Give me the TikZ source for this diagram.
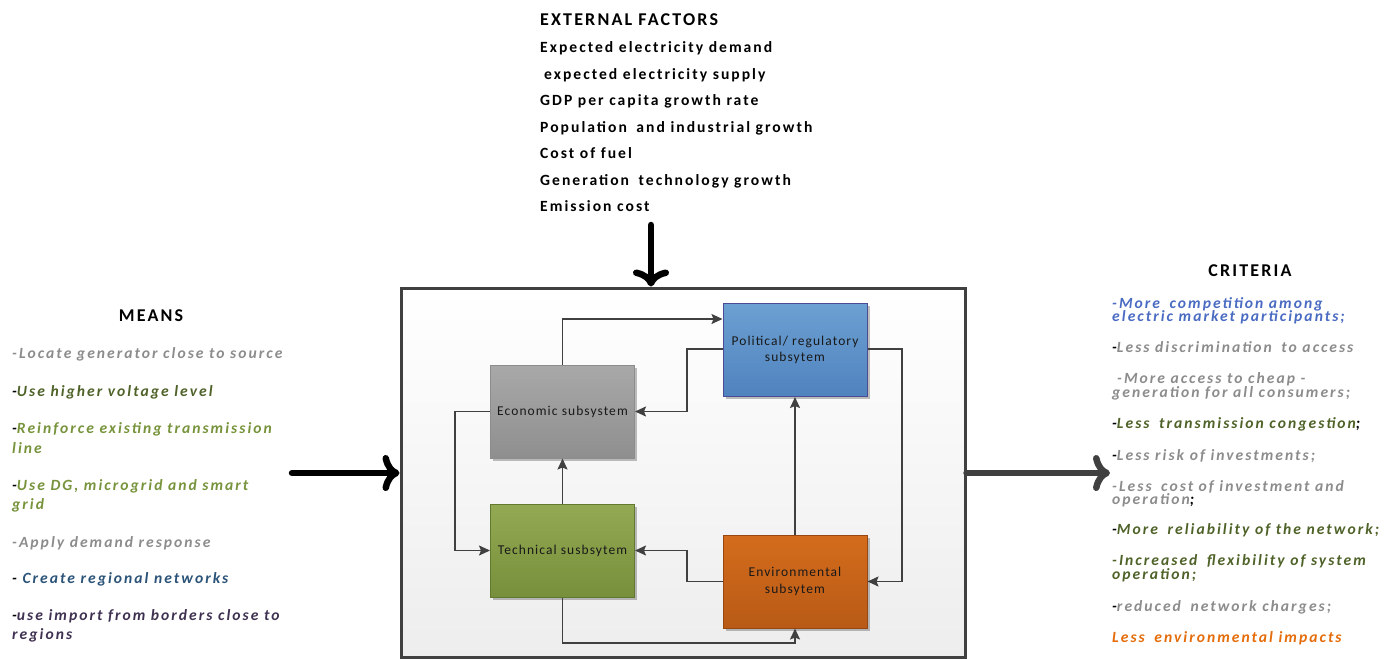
\documentclass[tikz,border=0pt]{standalone}
\usepackage{fontspec}
\setmainfont{Carlito}
\newfontfamily\ttlfont{Carlito}[LetterSpace=12]
\newfontfamily\bodfont{Carlito}[LetterSpace=13]
\newfontfamily\labfont{Carlito}[LetterSpace=8]
\usetikzlibrary{arrows.meta,shadows}

\definecolor{txtgray}{HTML}{8C8C8C}
\definecolor{dolive}{HTML}{4F6228}
\definecolor{lgreen}{HTML}{77933C}
\definecolor{dblue}{HTML}{2B5378}
\definecolor{dpurple}{HTML}{3F3151}
\definecolor{cblue}{HTML}{4A6BC2}
\definecolor{orng}{HTML}{E46C0A}
\definecolor{linegray}{HTML}{404040}

% double word gap: a normal space plus a little extra
\newcommand{\wgap}{\ \hspace{4pt}}

\begin{document}
\begin{tikzpicture}[x=1pt,y=-1pt,
  heading/.style={inner sep=0pt, anchor=base, font=\fontsize{18}{20}\ttlfont\bfseries},
  factor/.style={inner sep=0pt, anchor=base west, font=\fontsize{15.6}{18}\bodfont\bfseries},
  item/.style={inner sep=0pt, anchor=base west, font=\fontsize{15.6}{18}\bodfont\bfseries\itshape},
  subsys/.style={draw, line width=1pt, minimum width=144pt, minimum height=93pt, inner sep=2pt,
    align=center, text=black!90, font=\fontsize{13.5}{16.5}\labfont,
    drop shadow={shadow xshift=2.5pt, shadow yshift=-2.5pt, opacity=0.25, fill=black}},
  conn/.style={draw=linegray, line width=1.6pt, -{Stealth[length=11pt,width=10pt,inset=2pt]}},
  bigarrow/.style={line width=6.5pt, line cap=round,
    -{Computer Modern Rightarrow[length=17pt,width=36pt,line width=6.5pt]}}
]
\useasboundingbox (0,0) rectangle (1386,659);

% ---- system boundary ----
\node[draw=linegray, line width=3pt, top color=white, bottom color=black!7,
      minimum width=564pt, minimum height=369pt, inner sep=0pt] (sys) at (683,472.5) {};

% ---- subsystems ----
\node[subsys, draw=black!45, top color=black!34, bottom color=black!44] (eco) at (562.5,411.5) {Economic subsystem};
\node[subsys, draw=blue!40!black!70, top color={rgb,255:red,108;green,160;blue,210}, bottom color={rgb,255:red,80;green,131;blue,190}] (pol) at (795,350) {Political/ regulatory\\subsytem};
\node[subsys, draw={rgb,255:red,98;green,122;blue,48}, top color={rgb,255:red,148;green,169;blue,83}, bottom color={rgb,255:red,119;green,143;blue,59}] (tech) at (562.5,550.5) {Technical susbsytem};
\node[subsys, draw={rgb,255:red,150;green,72;blue,16}, top color={rgb,255:red,212;green,108;blue,28}, bottom color={rgb,255:red,184;green,90;blue,22}] (env) at (795,581.5) {Environmental\\subsytem};

% ---- interactions ----
\draw[conn] (eco.north) |- (pol.west |- 0,319);
\draw[conn] (pol.west |- 0,349) -- (687,349) |- (eco.east);
\draw[conn] (eco.west) -- (455,411.5) |- (tech.west);
\draw[conn] (tech.north) -- (eco.south);
\draw[conn] (env.west) -- (687,581.5) |- (tech.east);
\draw[conn] (pol.east |- 0,349) -- (902,349) |- (env.east);
\draw[conn] (env.north) -- (pol.south);
\draw[conn] (tech.south) -- (tech.south |- 0,643) -| (env.south);

% ---- inputs and outputs ----
\coordinate (meansEnd) at (292,473);
\coordinate (critEnd) at (1110,473);
\coordinate (extEnd) at (651,225);
\draw[bigarrow, black] (meansEnd) -- (sys.west |- meansEnd);
\draw[bigarrow, black] (extEnd) -- (sys.north -| extEnd);
\draw[bigarrow, linegray] (sys.east |- critEnd) -- (critEnd);

% ---- external factors ----
\node[heading, anchor=base west] (extT) at (540,25) {EXTERNAL FACTORS};
\node[factor] (ef1) at (540,52) {Expected electricity demand};
\node[factor] (ef2) at (544,79) {expected electricity supply};
\node[factor] (ef3) at (540,105.5) {GDP per capita growth rate};
\node[factor] (ef4) at (540,132) {Population\wgap and industrial growth};
\node[factor] (ef5) at (540,158.5) {Cost of fuel};
\node[factor] (ef6) at (540,185) {Generation\wgap technology growth};
\node[factor] (ef7) at (540,211.5) {Emission cost};

% ---- means ----
\node[heading] (meansT) at (151,321) {MEANS};
\node[item, text=txtgray] (m1) at (12,358) {-Locate generator close to source};
\node[item, text=dolive] (m2) at (12,396) {\textcolor{black}{-}Use higher voltage level};
\node[item, text=lgreen] (m3a) at (12,433) {\textcolor{black}{-}Reinforce existing transmission};
\node[item, text=lgreen] (m3b) at (12,453) {line};
\node[item, text=lgreen] (m4a) at (12,490) {\textcolor{black}{-}Use DG, microgrid and smart};
\node[item, text=lgreen] (m4b) at (12,509) {grid};
\node[item, text=txtgray] (m5) at (12,547) {-Apply demand response};
\node[item, text=dblue] (m6) at (12,583) {\textcolor{black}{-} Create regional networks};
\node[item, text=dpurple] (m7a) at (12,620) {\textcolor{black}{-}use import from borders close to};
\node[item, text=dpurple] (m7b) at (12,639) {regions};

% ---- criteria ----
\node[heading] (critT) at (1250,276) {CRITERIA};
\node[item, text=cblue] (c1a) at (1112,308) {-More\wgap competition among};
\node[item, text=cblue] (c1b) at (1112,321) {electric market participants;};
\node[item, text=txtgray] (c2) at (1112,352) {\textcolor{black}{-}Less discrimination\wgap to access};
\node[item, text=txtgray] (c3a) at (1117,383) {-More access to cheap -};
\node[item, text=txtgray] (c3b) at (1112,397) {generation for all consumers;};
\node[item, text=dolive] (c4) at (1112,428) {\textcolor{black}{-}Less\wgap transmission congestion\textcolor{black}{;}};
\node[item, text=txtgray] (c5) at (1112,460) {\textcolor{black}{-}Less risk of investments;};
\node[item, text=txtgray] (c6a) at (1112,491) {-Less\wgap cost of investment and};
\node[item, text=txtgray] (c6b) at (1112,504) {operation\textcolor{black}{;}};
\node[item, text=dolive] (c7) at (1112,534) {\textcolor{black}{-}More\wgap reliability of the network;};
\node[item, text=dolive] (c8a) at (1112,565) {-Increased\wgap flexibility of system};
\node[item, text=dolive] (c8b) at (1112,579) {operation;};
\node[item, text=txtgray] (c9) at (1112,611) {\textcolor{black}{-}reduced\wgap network charges;};
\node[item, text=orng] (c10) at (1112,642) {Less\wgap environmental impacts};
\end{tikzpicture}
\end{document}
